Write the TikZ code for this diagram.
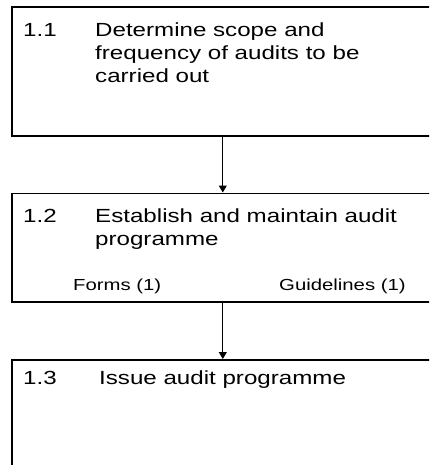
\documentclass[tikz,border=0pt]{standalone}
\usepackage{fontspec}
\setmainfont[FakeStretch=1.27]{Liberation Sans}
\usetikzlibrary{arrows.meta}
\begin{document}
\begin{tikzpicture}[x=1pt,y=1pt,
  box/.style={draw=black, line width=1.6pt, minimum width=422pt, anchor=north west, inner sep=0pt},
  num/.style={anchor=base west, inner sep=0pt, font=\fontsize{19}{23}\selectfont},
  txt/.style={anchor=base west, inner sep=0pt, align=left, font=\fontsize{19}{23}\selectfont},
  small/.style={anchor=base west, inner sep=0pt, font=\fontsize{16}{19}\selectfont},
  arr/.style={draw=black, line width=1pt, -{Triangle[width=8pt,length=7pt]}}]
\useasboundingbox (0,0) rectangle (429,-465);
\clip (0,0) rectangle (429,-465);
\node[box, minimum height=128.5pt] (b1) at (11,-6.5) {};
\node[num] (n1) at (23,-37) {1.1};
\node[txt] (d1) at (95,-83) {Determine scope and\\frequency of audits to be\\carried out};
\node[box, minimum height=108.5pt] (b2) at (11,-192.5) {};
\node[num] (n2) at (23,-222) {1.2};
\node[txt] (d2) at (95,-245) {Establish and maintain audit\\programme};
\node[small] (f2) at (73,-290) {Forms (1)};
\node[small] (g2) at (279,-290) {Guidelines (1)};
\node[box, minimum height=115pt] (b3) at (11,-359) {};
\node[num] (n3) at (23,-384) {1.3};
\node[txt] (d3) at (99,-384) {Issue audit programme};
\draw[arr] (b1.south) -- (b2.north);
\draw[arr] (b2.south) -- (b3.north);
\end{tikzpicture}
\end{document}
